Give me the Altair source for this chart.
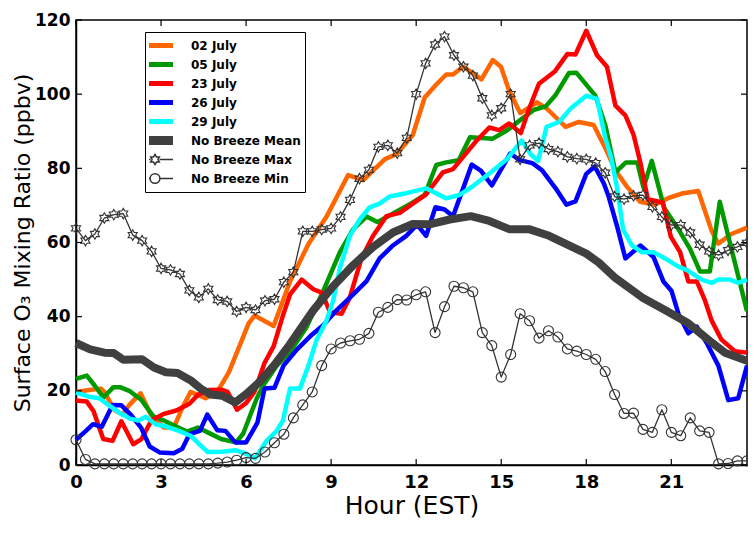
import altair as alt
import pandas as pd

SERIES = ["02 July", "05 July", "23 July", "26 July", "29 July",
          "No Breeze Mean", "No Breeze Max", "No Breeze Min"]
COLORS = ["#ff6600", "#009900", "#ff0000", "#0000ff", "#00ffff",
          "#404040", "#333333", "#333333"]
LINE_WIDTHS = [4.5, 4.5, 4.5, 4.5, 4.5, 8, 1.3, 1.3]

X_TICKS = [0, 3, 6, 9, 12, 15, 18, 21]
Y_TICKS = [0, 20, 40, 60, 80, 100, 120]

# 20-minute sampling grid of the no-breeze statistics
HOURS_20MIN = [round(i / 3, 3) for i in range(72)]

MAX_VALUES = [63.8, 60.5, 62.3, 66.6, 67.5, 67.8, 62.0, 60.5, 57.6, 53.0,
              52.6, 51.5, 47.1, 45.2, 47.5, 44.5, 44.1, 41.4, 42.5, 41.8,
              44.3, 44.7, 49.3, 52.0, 63.0, 63.0, 63.5, 63.8, 66.9, 71.5,
              77.2, 79.6, 85.8, 86.2, 84.1, 88.2, 100.0, 108.3, 113.4, 115.5,
              110.5, 107.4, 105.0, 98.9, 94.3, 96.2, 100.0, 82.4, 86.2, 86.8,
              85.2, 84.5, 83.1, 82.6, 82.4, 81.4, 78.8, 72.4, 71.7, 72.6,
              72.8, 69.6, 66.9, 64.7, 64.7, 62.7, 59.4, 57.6, 56.6, 57.9,
              58.8, 59.9]

MIN_VALUES = [6.8, 1.5, 0.3, 0.3, 0.3, 0.3, 0.3, 0.3, 0.3, 0.3,
              0.3, 0.3, 0.3, 0.3, 0.3, 0.5, 0.8, 1.3, 2.0, 1.8,
              3.5, 6.0, 8.3, 12.7, 16.2, 19.7, 26.8, 31.3, 32.9, 33.5,
              33.9, 35.5, 41.2, 42.5, 44.6, 44.5, 45.9, 46.7, 35.7, 42.7,
              48.2, 47.8, 46.7, 35.7, 32.2, 23.7, 29.8, 40.8, 38.9, 34.2,
              36.2, 34.5, 31.3, 30.7, 29.8, 28.5, 25.2, 19.0, 13.9, 14.0,
              9.6, 8.8, 14.9, 8.8, 7.9, 12.7, 9.2, 8.8, 0.3, 0.4,
              1.1, 1.1]

# (hour, ppbv) vertices of each daily trace
JUL02 = [(0, 19.7), (0.47, 20.2), (0.88, 20.6), (1.0, 19.7), (1.35, 14.9), (1.64, 13.6),
         (1.88, 16.2), (2.28, 19.3), (2.64, 13.6), (3.1, 10.1), (3.45, 10.1), (3.75, 15.4),
         (4.04, 19.7), (4.57, 18.0), (4.98, 19.7), (5.39, 25.0), (5.74, 31.6), (6.09, 38.2),
         (6.3, 40.3), (6.97, 37.5), (7.55, 49.5), (8.2, 59.6), (8.84, 67.0), (9.6, 78.2),
         (10.13, 76.8), (10.9, 82.5), (11.3, 83.8), (11.88, 89.0), (12.3, 99.1), (12.71, 102.6),
         (13.06, 105.3), (13.3, 105.3), (13.65, 107.4), (14.0, 105.7), (14.3, 104.0), (14.7, 109.2),
         (14.99, 107.4), (15.28, 100.9), (15.67, 94.9), (16.27, 97.8), (16.62, 96.0), (17.27, 91.2),
         (17.74, 92.5), (18.26, 91.7), (18.67, 85.5), (19.03, 79.4), (19.44, 75.0), (19.9, 71.0),
         (20.43, 70.2), (20.9, 72.0), (21.37, 73.2), (21.95, 73.9), (22.42, 63.2), (22.66, 59.7),
         (23.12, 62.3), (23.67, 64.0)]

JUL05 = [(0, 23.2), (0.38, 24.1), (0.65, 21.5), (0.97, 18.2), (1.32, 21.0), (1.55, 21.0),
         (1.9, 19.9), (2.3, 17.6), (2.72, 13.2), (3.1, 12.0), (3.55, 10.3), (3.92, 9.0),
         (4.3, 10.1), (4.7, 8.6), (5.12, 7.0), (5.65, 6.1), (5.9, 8.5), (6.2, 14.5),
         (6.38, 18.0), (6.61, 21.5), (7.08, 26.8), (7.55, 30.5), (8.14, 37.3), (8.72, 46.9),
         (9.31, 57.4), (9.78, 63.6), (10.25, 67.0), (10.63, 65.5), (11.06, 67.3), (11.77, 70.3),
         (12.3, 72.8), (12.71, 80.9), (13.06, 81.6), (13.5, 82.2), (13.9, 88.4), (14.7, 88.0),
         (15.2, 90.2), (15.7, 93.2), (16.16, 95.8), (16.57, 96.7), (16.92, 99.8), (17.39, 105.7),
         (17.65, 105.8), (18.32, 99.6), (18.67, 91.7), (19.03, 78.9), (19.4, 81.6), (19.8, 81.6),
         (20.02, 74.8), (20.31, 82.0), (20.75, 69.3), (21.25, 63.6), (21.66, 58.3), (22.01, 52.2),
         (22.36, 52.2), (22.71, 71.0), (23.12, 58.3), (23.67, 41.5)]

JUL23 = [(0, 17.4), (0.38, 17.1), (0.62, 14.5), (0.96, 7.0), (1.29, 6.5), (1.6, 11.8),
         (2.02, 5.6), (2.31, 7.0), (2.66, 12.0), (3.07, 13.7), (3.54, 14.7), (4.0, 16.5),
         (4.3, 18.9), (4.68, 20.2), (5.15, 20.3), (5.35, 19.7), (5.68, 14.9), (6.0, 16.7),
         (6.3, 19.8), (6.65, 27.5), (6.97, 32.0), (7.32, 40.8), (7.55, 46.0), (7.96, 50.0),
         (8.37, 47.4), (8.67, 46.5), (8.96, 41.2), (9.37, 40.8), (9.66, 45.2), (10.07, 55.7),
         (10.48, 61.8), (10.95, 67.1), (11.42, 68.0), (11.88, 70.5), (12.35, 73.0), (12.94, 78.9),
         (13.3, 79.8), (13.7, 83.5), (14.11, 87.3), (14.58, 91.0), (14.93, 90.3), (15.28, 92.1),
         (15.69, 89.5), (15.98, 96.0), (16.33, 102.8), (16.9, 106.2), (17.33, 110.8), (17.62, 110.7),
         (18.0, 117.1), (18.38, 110.5), (18.73, 107.4), (19.03, 96.9), (19.38, 94.3), (19.67, 89.0),
         (19.91, 81.5), (20.17, 71.7), (20.7, 70.8), (20.98, 61.6), (21.31, 57.4), (21.6, 49.5),
         (21.9, 49.5), (22.19, 44.3), (22.42, 39.0), (22.77, 33.8), (23.24, 30.7), (23.67, 30.3)]

JUL26 = [(0, 6.8), (0.35, 9.2), (0.6, 11.0), (0.91, 10.3), (1.29, 16.2), (1.6, 16.1),
         (1.93, 13.6), (2.3, 10.0), (2.6, 5.0), (2.95, 3.4), (3.45, 3.2), (3.75, 4.4),
         (4.0, 8.3), (4.37, 9.2), (4.63, 13.6), (4.98, 9.4), (5.27, 9.2), (5.62, 6.1),
         (6.0, 6.1), (6.4, 11.4), (6.65, 20.6), (7.0, 20.8), (7.32, 26.8), (7.79, 31.1),
         (8.26, 34.7), (8.72, 37.7), (9.19, 41.7), (9.78, 46.0), (10.25, 49.6), (10.71, 55.7),
         (11.18, 59.2), (11.65, 61.8), (12.03, 64.8), (12.35, 61.8), (12.68, 69.5), (13.0, 68.9),
         (13.3, 67.1), (13.96, 81.0), (14.28, 79.4), (14.67, 75.4), (15.32, 84.0), (15.65, 82.2),
         (16.1, 81.4), (16.45, 79.4), (16.92, 74.6), (17.3, 70.2), (17.62, 71.1), (18.0, 78.5),
         (18.3, 80.5), (18.62, 75.9), (18.79, 72.4), (19.1, 64.0), (19.38, 55.7), (19.91, 59.2),
         (20.37, 56.1), (20.72, 49.5), (21.01, 46.9), (21.25, 40.8), (21.6, 35.5), (21.9, 37.3),
         (22.25, 32.9), (22.66, 26.8), (23.01, 17.5), (23.36, 18.0), (23.67, 26.8)]

JUL29 = [(0, 19.5), (0.47, 18.4), (0.82, 18.0), (1.14, 16.2), (1.55, 14.0), (1.9, 12.5),
         (2.2, 12.0), (2.46, 13.0), (2.81, 11.0), (3.22, 10.3), (3.63, 9.2), (4.04, 7.9),
         (4.39, 5.3), (4.65, 3.5), (5.15, 3.6), (5.62, 4.0), (5.97, 3.1), (6.32, 1.8),
         (6.73, 6.6), (7.08, 9.2), (7.3, 12.0), (7.55, 20.6), (7.9, 20.6), (8.2, 26.8),
         (8.49, 33.8), (8.84, 39.0), (9.07, 44.3), (9.31, 53.1), (9.66, 61.8), (10.01, 66.2),
         (10.36, 69.5), (10.71, 70.5), (11.06, 72.4), (11.65, 73.3), (12.35, 74.6), (13.06, 71.9),
         (13.52, 72.8), (14.05, 75.5), (14.65, 79.0), (15.22, 82.6), (15.72, 87.5), (16.04, 83.8),
         (16.3, 82.0), (16.6, 91.2), (17.04, 92.5), (17.47, 96.3), (18.0, 99.6), (18.38, 98.7),
         (18.67, 88.2), (18.88, 82.9), (19.08, 75.0), (19.3, 63.5), (19.61, 59.2), (19.96, 57.4),
         (20.37, 57.4), (20.78, 55.7), (21.25, 53.5), (21.54, 52.6), (22.07, 50.0), (22.42, 49.1),
         (22.66, 50.0), (23.07, 50.0), (23.36, 49.1), (23.67, 50.0)]

MEAN = [(0, 32.9), (0.5, 31.2), (1.0, 30.3), (1.33, 30.2), (1.67, 28.4), (2.33, 28.5),
        (2.75, 26.3), (3.17, 25.0), (3.58, 24.8), (4.05, 22.8), (4.4, 20.6), (4.75, 19.0),
        (5.15, 18.7), (5.62, 16.9), (6.03, 19.3), (6.5, 22.6), (7.0, 27.0), (7.53, 32.4),
        (8.37, 41.7), (9.07, 48.2), (9.78, 53.9), (10.48, 58.8), (11.18, 62.7), (11.88, 65.0),
        (12.47, 64.9), (13.18, 66.2), (13.93, 67.1), (14.58, 65.8), (15.28, 63.6), (15.98, 63.6),
        (16.69, 61.8), (17.39, 59.2), (18.0, 57.0), (18.44, 54.6), (19.03, 50.4), (19.97, 45.2),
        (20.79, 41.7), (21.6, 38.2), (22.3, 33.8), (22.89, 30.3), (23.67, 28.1)]

# ---------------------------------------------------------------------------
W, H = 671, 445
FONT = "DejaVu Sans"
HEX = ("M0,-1L0.289,-0.5L0.866,-0.5L0.577,0L0.866,0.5L0.289,0.5L0,1L-0.289,0.5"
       "L-0.866,0.5L-0.577,0L-0.866,-0.5L-0.289,-0.5Z")
LEG_STAR = ("M-1,0H-0.25M0.25,0H1M0,-0.28L0.081,-0.14L0.242,-0.14L0.162,0L0.242,0.14"
            "L0.081,0.14L0,0.28L-0.081,0.14L-0.242,0.14L-0.162,0L-0.242,-0.14L-0.081,-0.14Z")
LEG_CIRC = "M-1,0H-0.27M0.27,0H1M0.27,0A0.27,0.27,0,1,1,-0.27,0A0.27,0.27,0,1,1,0.27,0Z"

daily = {"02 July": JUL02, "05 July": JUL05, "23 July": JUL23,
         "26 July": JUL26, "29 July": JUL29, "No Breeze Mean": MEAN}
rows = []
for name, pts in daily.items():
    lw = LINE_WIDTHS[SERIES.index(name)]
    for h, v in pts:
        rows.append({"hour": h, "value": v, "series": name, "lw": lw})
for name, vals in (("No Breeze Max", MAX_VALUES), ("No Breeze Min", MIN_VALUES)):
    lw = LINE_WIDTHS[SERIES.index(name)]
    for h, v in zip(HOURS_20MIN, vals):
        rows.append({"hour": h, "value": v, "series": name, "lw": lw})
lines_df = pd.DataFrame(rows)

max_df = pd.DataFrame({"hour": HOURS_20MIN, "value": MAX_VALUES})
min_df = pd.DataFrame({"hour": HOURS_20MIN, "value": MIN_VALUES})

xscale = alt.Scale(domain=[0, 23.67], nice=False, zero=False)
yscale = alt.Scale(domain=[0, 120], nice=False)

x_axis = alt.Axis(values=X_TICKS, title="Hour (EST)", ticks=False, grid=False,
                  labelFont=FONT, labelFontWeight="bold", labelFontSize=18,
                  labelColor="black", labelPadding=8, labelFlush=False,
                  titleFont=FONT, titleFontWeight="normal", titleFontSize=25,
                  titleColor="black", titlePadding=2,
                  domainColor="black", domainWidth=1.5)
y_axis = alt.Axis(values=Y_TICKS, title="Surface O\u2083 Mixing Ratio (ppbv)", ticks=False,
                  grid=False, labelFont=FONT, labelFontWeight="bold", labelFontSize=17,
                  labelColor="black", labelPadding=6, labelFlush=False,
                  titleFont=FONT, titleFontWeight="normal", titleFontSize=22,
                  titleColor="black", titlePadding=0,
                  domainColor="black", domainWidth=1.5)

X_ENC = alt.X("hour:Q", scale=xscale, axis=x_axis)
Y_ENC = alt.Y("value:Q", scale=yscale, axis=y_axis)

shape_expr = ("datum.value === 'No Breeze Max' ? '" + LEG_STAR + "' : "
              "datum.value === 'No Breeze Min' ? '" + LEG_CIRC + "' : 'stroke'")
width_expr = ("datum.value === 'No Breeze Mean' ? 9 : "
              "(datum.value === 'No Breeze Max' || datum.value === 'No Breeze Min') ? 1.5 : 5")

legend = alt.Legend(title=None, orient="none", legendX=69, legendY=12,
                    direction="vertical", fillColor="white", strokeColor="black",
                    padding=4, clipHeight=19, rowPadding=0, symbolSize=1296,
                    symbolType=alt.ExprRef(expr=shape_expr),
                    symbolStrokeWidth=alt.ExprRef(expr=width_expr),
                    symbolFillColor="white", symbolOpacity=1,
                    labelFont=FONT, labelFontWeight="bold", labelFontSize=12,
                    labelColor="black", labelOffset=30, labelLimit=300)

lines = alt.Chart(lines_df).mark_line(strokeCap="butt", strokeJoin="round").encode(
    x=X_ENC,
    y=Y_ENC,
    color=alt.Color("series:N", scale=alt.Scale(domain=SERIES, range=COLORS),
                    sort=SERIES, legend=legend),
    strokeWidth=alt.StrokeWidth("lw:Q", scale=None, legend=None),
    detail="series:N",
)

stars = alt.Chart(max_df).mark_point(shape=HEX, size=110, filled=False,
                                     color="#333333", strokeWidth=1.1, opacity=1).encode(
    x=X_ENC, y=Y_ENC)
circles = alt.Chart(min_df).mark_point(shape="circle", size=100, filled=False,
                                       color="#333333", strokeWidth=1.1, opacity=1).encode(
    x=X_ENC, y=Y_ENC)

xt_df = pd.DataFrame({"hour": X_TICKS})
yt_df = pd.DataFrame({"value": Y_TICKS})
ticks_bottom = alt.Chart(xt_df).mark_rule(color="black", strokeWidth=1.2).encode(
    x=X_ENC, y=alt.value(H), y2=alt.value(H - 6))
ticks_top = alt.Chart(xt_df).mark_rule(color="black", strokeWidth=1.2).encode(
    x=X_ENC, y=alt.value(0), y2=alt.value(6))
ticks_left = alt.Chart(yt_df).mark_rule(color="black", strokeWidth=1.2).encode(
    y=Y_ENC, x=alt.value(0), x2=alt.value(6))
ticks_right = alt.Chart(yt_df).mark_rule(color="black", strokeWidth=1.2).encode(
    y=Y_ENC, x=alt.value(W - 6), x2=alt.value(W))

chart = alt.layer(lines, stars, circles, ticks_bottom, ticks_top, ticks_left, ticks_right).properties(
    width=W, height=H,
    autosize=alt.AutoSizeParams(type="none"),
    padding={"left": 68, "top": 12, "right": 1, "bottom": 59},
    background="white",
).configure_view(stroke="black", strokeWidth=1.5)

chart.save("out.html", embed_options={"renderer": "svg", "actions": False})
